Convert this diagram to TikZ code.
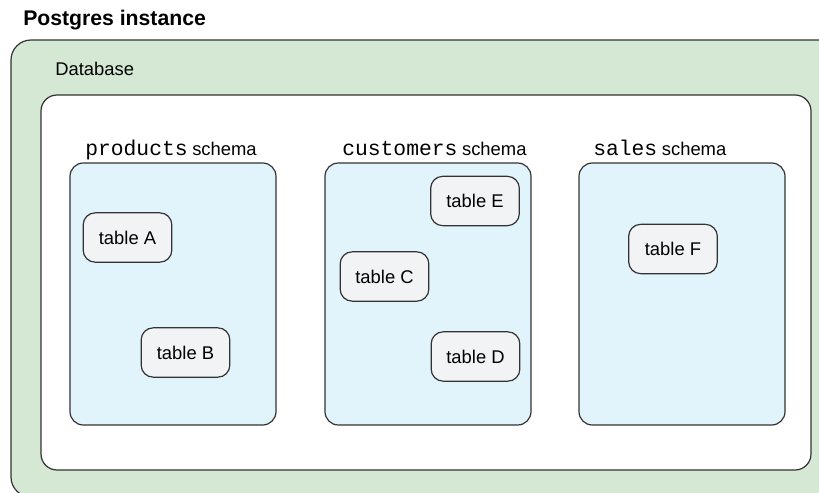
\documentclass[tikz,border=0pt]{standalone}
\usepackage{fontspec}
\setmainfont{Liberation Sans}
\setmonofont{Liberation Mono}
\definecolor{instgreen}{HTML}{D5E8D4}
\definecolor{schemablue}{HTML}{E1F3FB}
\definecolor{tablegrey}{HTML}{F2F3F5}
\definecolor{edge}{HTML}{333333}
\newcommand{\bodyfont}{\fontsize{13.8}{16}\selectfont}
\newcommand{\codefont}{\fontsize{16}{18}\selectfont\ttfamily}
\begin{document}
\begin{tikzpicture}[x=0.75pt,y=-0.75pt,
  box/.style={draw=edge,line width=0.9pt},
  tablebox/.style={box,fill=tablegrey,rounded corners=9pt,minimum width=66.5pt,minimum height=37pt,inner sep=0pt,font=\bodyfont},
  lbl/.style={anchor=base west,inner sep=0pt,font=\bodyfont},
  ttl/.style={anchor=base west,inner sep=0pt,font=\fontsize{15.9}{18}\selectfont\bfseries}]
\clip (0,0) rectangle (819,493);
\fill[white] (0,0) rectangle (819,493);
% instance
\draw[box,fill=instgreen,rounded corners=15pt] (11,40) rectangle (840,497);
\node[ttl] (title) at (23,25) {Postgres instance};
% database
\draw[box,fill=white,rounded corners=12pt] (41,95) rectangle (811,470);
\node[lbl] (dblbl) at (55,75) {Database};
% schemas
\draw[box,fill=schemablue,rounded corners=10pt] (70,163) rectangle (276,425);
\draw[box,fill=schemablue,rounded corners=10pt] (325,163) rectangle (531,425);
\draw[box,fill=schemablue,rounded corners=10pt] (579,163) rectangle (785,425);
\node[lbl] (s1) at (85,155) {{\codefont products}\hspace{0.25em}schema};
\node[lbl] (s2) at (342,155) {{\codefont customers}\hspace{0.25em}schema};
\node[lbl] (s3) at (593,155) {{\codefont sales}\hspace{0.25em}schema};
% tables
\node[tablebox] (tA) at (127.5,237.5) {table A};
\node[tablebox] (tB) at (185.5,352.5) {table B};
\node[tablebox] (tC) at (384.5,276.5) {table C};
\node[tablebox] (tE) at (475,201) {table E};
\node[tablebox] (tD) at (475.5,356.5) {table D};
\node[tablebox] (tF) at (673,249) {table F};
\end{tikzpicture}
\end{document}
